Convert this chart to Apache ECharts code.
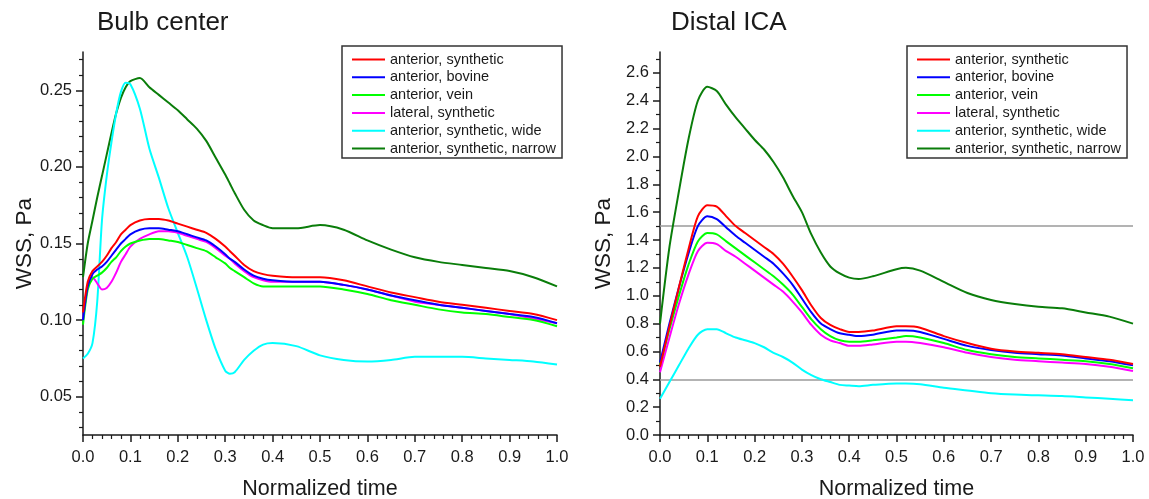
<!DOCTYPE html>
<html>
<head>
<meta charset="utf-8">
<script src="https://cdn.jsdelivr.net/npm/echarts@6/dist/echarts.min.js"></script>
<style>
  html, body { margin: 0; padding: 0; background: #fff; }
  #main { width: 1149px; height: 499px; }
</style>
</head>
<body>
<div id="main"></div>
<script>
// series names (legend)
var seriesNames = ['anterior, synthetic', 'anterior, bovine', 'anterior, vein',
  'lateral, synthetic', 'anterior, synthetic, wide', 'anterior, synthetic, narrow'];
var seriesColors = ['#ff0000', '#0000ff', '#00ff00', '#ff00ff', '#00ffff', '#0a7d0a'];

// Bulb center: normalized time and WSS (Pa)
var bulbTime = [0, 0.01, 0.02, 0.03, 0.04, 0.05, 0.06, 0.07, 0.08, 0.09, 0.10, 0.12, 0.14, 0.16, 0.18, 0.20,
  0.22, 0.24, 0.26, 0.28, 0.30, 0.31, 0.32, 0.34, 0.36, 0.38, 0.40, 0.45, 0.50, 0.55, 0.60, 0.65, 0.70,
  0.75, 0.80, 0.85, 0.90, 0.95, 1.0];
var bulbSynthetic = [0.105, 0.125, 0.132, 0.135, 0.138, 0.142, 0.147, 0.151, 0.156, 0.159, 0.162, 0.165, 0.166, 0.166, 0.165, 0.163,
  0.161, 0.159, 0.157, 0.153, 0.148, 0.145, 0.142, 0.136, 0.132, 0.130, 0.129, 0.128, 0.128, 0.126, 0.122, 0.118, 0.115,
  0.112, 0.110, 0.108, 0.106, 0.104, 0.100];
var bulbBovine = [0.100, 0.122, 0.130, 0.133, 0.135, 0.138, 0.142, 0.146, 0.150, 0.153, 0.156, 0.159, 0.160, 0.160, 0.159, 0.158,
  0.156, 0.154, 0.152, 0.148, 0.143, 0.140, 0.138, 0.133, 0.129, 0.127, 0.126, 0.125, 0.125, 0.123, 0.120, 0.116, 0.113,
  0.110, 0.108, 0.106, 0.104, 0.102, 0.098];
var bulbVein = [0.097, 0.120, 0.127, 0.129, 0.131, 0.134, 0.138, 0.141, 0.145, 0.148, 0.150, 0.152, 0.153, 0.153, 0.152, 0.151,
  0.149, 0.147, 0.145, 0.141, 0.137, 0.134, 0.132, 0.128, 0.124, 0.122, 0.122, 0.122, 0.122, 0.120, 0.117, 0.113, 0.110,
  0.107, 0.105, 0.104, 0.102, 0.100, 0.096];
var bulbLateral = [0.100, 0.122, 0.128, 0.124, 0.120, 0.121, 0.125, 0.131, 0.138, 0.143, 0.148, 0.153, 0.156, 0.158, 0.158, 0.157,
  0.155, 0.153, 0.151, 0.147, 0.142, 0.140, 0.137, 0.132, 0.128, 0.126, 0.125, 0.125, 0.125, 0.123, 0.120, 0.116, 0.112,
  0.110, 0.108, 0.106, 0.104, 0.101, 0.098];
var bulbWide = [0.075, 0.078, 0.085, 0.112, 0.165, 0.194, 0.216, 0.235, 0.249, 0.255, 0.254, 0.238, 0.212, 0.193, 0.173, 0.157,
  0.141, 0.121, 0.100, 0.081, 0.067, 0.065, 0.066, 0.074, 0.080, 0.084, 0.085, 0.083, 0.077, 0.074, 0.073, 0.074, 0.076,
  0.076, 0.076, 0.075, 0.074, 0.073, 0.071];
var bulbNarrow = [0.128, 0.150, 0.165, 0.180, 0.194, 0.208, 0.222, 0.235, 0.245, 0.252, 0.256, 0.258, 0.252, 0.247, 0.242, 0.237,
  0.231, 0.225, 0.217, 0.206, 0.195, 0.189, 0.183, 0.172, 0.165, 0.162, 0.160, 0.160, 0.162, 0.159, 0.152, 0.146, 0.141,
  0.138, 0.136, 0.134, 0.132, 0.128, 0.122];

// Distal ICA
var icaTime = [0, 0.02, 0.04, 0.06, 0.08, 0.10, 0.12, 0.14, 0.16, 0.18, 0.20, 0.22, 0.24, 0.26, 0.28, 0.30,
  0.32, 0.34, 0.36, 0.38, 0.40, 0.42, 0.45, 0.50, 0.52, 0.55, 0.60, 0.65, 0.70, 0.75, 0.80, 0.85, 0.90, 0.95, 1.0];
var icaSynthetic = [0.49, 0.78, 1.06, 1.33, 1.57, 1.65, 1.64, 1.57, 1.50, 1.45, 1.40, 1.35, 1.30, 1.23, 1.14, 1.04,
  0.93, 0.84, 0.79, 0.76, 0.74, 0.74, 0.75, 0.78, 0.78, 0.77, 0.71, 0.66, 0.62, 0.60, 0.59, 0.58, 0.56, 0.54, 0.51];
var icaBovine = [0.52, 0.80, 1.06, 1.30, 1.50, 1.57, 1.55, 1.49, 1.43, 1.38, 1.33, 1.28, 1.23, 1.16, 1.08, 0.98,
  0.88, 0.80, 0.76, 0.73, 0.72, 0.71, 0.72, 0.75, 0.75, 0.74, 0.69, 0.64, 0.61, 0.59, 0.58, 0.57, 0.55, 0.53, 0.50];
var icaVein = [0.50, 0.76, 1.00, 1.22, 1.39, 1.45, 1.44, 1.39, 1.34, 1.29, 1.24, 1.19, 1.14, 1.08, 1.01, 0.92,
  0.83, 0.76, 0.71, 0.68, 0.67, 0.67, 0.68, 0.70, 0.71, 0.70, 0.66, 0.61, 0.58, 0.56, 0.55, 0.54, 0.53, 0.51, 0.48];
var icaLateral = [0.45, 0.70, 0.94, 1.15, 1.32, 1.38, 1.37, 1.32, 1.28, 1.23, 1.18, 1.13, 1.08, 1.03, 0.96, 0.88,
  0.79, 0.72, 0.68, 0.66, 0.64, 0.64, 0.65, 0.67, 0.67, 0.66, 0.63, 0.59, 0.56, 0.54, 0.53, 0.52, 0.51, 0.49, 0.46];
var icaWide = [0.26, 0.38, 0.50, 0.62, 0.72, 0.76, 0.76, 0.73, 0.70, 0.68, 0.66, 0.63, 0.59, 0.56, 0.52, 0.47,
  0.43, 0.40, 0.38, 0.36, 0.355, 0.35, 0.36, 0.37, 0.37, 0.365, 0.34, 0.32, 0.30, 0.29, 0.285, 0.28, 0.27, 0.26, 0.25];
var icaNarrow = [0.80, 1.35, 1.75, 2.12, 2.40, 2.50, 2.47, 2.37, 2.28, 2.20, 2.12, 2.05, 1.96, 1.85, 1.72, 1.60,
  1.44, 1.31, 1.21, 1.16, 1.13, 1.12, 1.14, 1.19, 1.20, 1.18, 1.10, 1.02, 0.97, 0.94, 0.92, 0.91, 0.88, 0.85, 0.80];
var icaRefLevels = [1.5, 0.4];

// tick labels
var bulbTicks = [0.05, 0.10, 0.15, 0.20, 0.25];
var icaTicks = [0.0, 0.2, 0.4, 0.6, 0.8, 1.0, 1.2, 1.4, 1.6, 1.8, 2.0, 2.2, 2.4, 2.6];

function minorTicks(from, to, step, major) {
  var out = [];
  for (var v = from; v <= to + 1e-9; v += step) {
    var r = Math.round(v * 1000) / 1000;
    if (major.every(function (m) { return Math.abs(m - r) > 1e-6; })) out.push(r);
  }
  return out;
}

var FONT = '"Liberation Sans", Arial, sans-serif';
var INK = '#1a1a1a';
var chart = echarts.init(document.getElementById('main'));

function pairs(xs, ys) {
  return xs.map(function (x, i) { return [x, ys[i]]; });
}

function xAxisFor(grid) {
  return {
    type: 'value', gridIndex: grid, min: 0, max: 1, interval: 0.1,
    name: 'Normalized time', nameLocation: 'middle', nameGap: 43,
    nameTextStyle: { fontSize: 21.5, color: INK, fontFamily: FONT },
    axisLine: { lineStyle: { color: INK, width: 1.5 } },
    axisTick: { length: 7, lineStyle: { color: INK, width: 1.5 } },
    minorTick: { show: true, splitNumber: 5, length: 4, lineStyle: { color: INK, width: 1.2 } },
    axisLabel: { fontSize: 16.5, color: INK, fontFamily: FONT, margin: 14,
      formatter: function (v) { return v.toFixed(1); } },
    splitLine: { show: false }
  };
}

function yAxisPair(grid, min, max, ticks, minors, digits) {
  return [{
    type: 'value', gridIndex: grid, min: min, max: max, position: 'left',
    name: 'WSS, Pa', nameLocation: 'middle', nameGap: 45,
    nameTextStyle: { fontSize: 22.5, color: INK, fontFamily: FONT },
    axisLine: { show: true, lineStyle: { color: INK, width: 1.5 } },
    axisTick: { show: true, length: 7, customValues: ticks, lineStyle: { color: INK, width: 1.5 } },
    axisLabel: { fontSize: 16.5, color: INK, fontFamily: FONT, margin: 11, customValues: ticks,
      formatter: function (v) { return v.toFixed(digits); } },
    splitLine: { show: false }
  }, {
    type: 'value', gridIndex: grid, min: min, max: max, position: 'left', offset: 0,
    axisLine: { show: false },
    axisTick: { show: true, length: 4, customValues: minors, lineStyle: { color: INK, width: 1.2 } },
    axisLabel: { show: false },
    splitLine: { show: false }
  }];
}

var bulbSets = [bulbSynthetic, bulbBovine, bulbVein, bulbLateral, bulbWide, bulbNarrow];
var icaSets = [icaSynthetic, icaBovine, icaVein, icaLateral, icaWide, icaNarrow];

var series = [];
seriesNames.forEach(function (name, i) {
  series.push({
    name: name, type: 'line', xAxisIndex: 0, yAxisIndex: 0,
    data: pairs(bulbTime, bulbSets[i]), smooth: 0.25, symbol: 'none',
    lineStyle: { color: seriesColors[i], width: 2 }, itemStyle: { color: seriesColors[i] },
    z: 10 - i
  });
});
seriesNames.forEach(function (name, i) {
  var s = {
    name: name, type: 'line', xAxisIndex: 1, yAxisIndex: 2,
    data: pairs(icaTime, icaSets[i]), smooth: 0.25, symbol: 'none',
    lineStyle: { color: seriesColors[i], width: 2 }, itemStyle: { color: seriesColors[i] },
    z: 10 - i
  };
  if (i === 0) {
    s.markLine = {
      silent: true, symbol: 'none', label: { show: false },
      lineStyle: { color: '#9a9a9a', width: 1.5, type: 'solid' },
      data: icaRefLevels.map(function (v) { return { yAxis: v }; })
    };
  }
  series.push(s);
});

function legendAt(left) {
  return {
    left: left, top: 46, orient: 'vertical',
    data: seriesNames,
    icon: 'rect',
    itemWidth: 33, itemHeight: 2, itemGap: 2.8,
    padding: [6, 6, 2, 10],
    borderColor: '#333', borderWidth: 1.5,
    textStyle: { fontSize: 14.5, color: INK, fontFamily: FONT }
  };
}

var option = {
  animation: false,
  backgroundColor: '#fff',
  title: [
    { text: 'Bulb center', left: 97, top: 10, padding: 0,
      textStyle: { fontSize: 26, fontWeight: 'normal', color: INK, fontFamily: FONT } },
    { text: 'Distal ICA', left: 671, top: 10, padding: 0,
      textStyle: { fontSize: 26, fontWeight: 'normal', color: INK, fontFamily: FONT } }
  ],
  legend: [legendAt(342), legendAt(907)],
  grid: [
    { left: 83, top: 52, width: 474, height: 383, outerBoundsMode: 'none' },
    { left: 660, top: 52, width: 473, height: 383, outerBoundsMode: 'none' }
  ],
  xAxis: [xAxisFor(0), xAxisFor(1)],
  yAxis: yAxisPair(0, 0.025, 0.275, bulbTicks, minorTicks(0.03, 0.27, 0.01, bulbTicks), 2)
    .concat(yAxisPair(1, 0, 2.75, icaTicks, minorTicks(0.1, 2.7, 0.2, icaTicks), 1)),
  series: series
};
chart.setOption(option);
</script>
</body>
</html>
